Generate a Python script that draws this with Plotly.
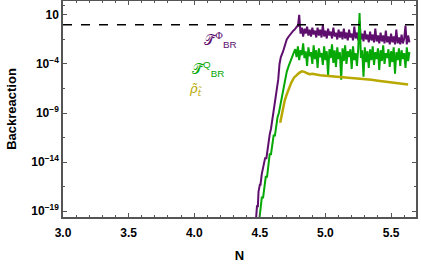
import plotly.graph_objects as go

# ---------------- data (log10 values) ----------------
phi_N = [4.470, 4.478, 4.485, 4.490, 4.500, 4.505, 4.515, 4.530, 4.540, 4.550,
         4.560, 4.575, 4.585, 4.595, 4.605, 4.615, 4.630, 4.640, 4.650, 4.660,
         4.675, 4.690, 4.705, 4.720, 4.740, 4.755, 4.765, 4.775, 4.785,
         4.79, 4.80, 4.81, 4.82, 4.83, 4.84, 4.85, 4.86, 4.87, 4.88, 4.89,
         4.90, 4.91, 4.92, 4.93, 4.94, 4.95, 4.96, 4.97, 4.98, 4.99,
         5.00, 5.01, 5.02, 5.03, 5.04, 5.05, 5.06, 5.07, 5.08, 5.09,
         5.10, 5.11, 5.12, 5.13, 5.14, 5.15, 5.16, 5.17, 5.18, 5.19,
         5.20, 5.21, 5.22, 5.23, 5.24, 5.25, 5.26, 5.27, 5.28, 5.29,
         5.30, 5.31, 5.32, 5.33, 5.34, 5.35, 5.36, 5.37, 5.38, 5.39,
         5.40, 5.41, 5.42, 5.43, 5.44, 5.45, 5.46, 5.47, 5.48, 5.49,
         5.50, 5.51, 5.52, 5.53, 5.54, 5.55, 5.56, 5.57, 5.58, 5.59,
         5.60, 5.61, 5.62, 5.63, 5.64]
phi_log = [-20.0, -18.5, -18.5, -17.0, -16.3, -16.3, -15.2, -14.2, -13.6, -13.6,
           -12.5, -11.2, -10.6, -9.6, -9.0, -8.1, -6.6, -5.6, -4.0, -3.3,
           -2.8, -2.0, -1.5, -1.2, -0.8, -0.6, -0.5, -0.3, -0.15,
           -0.2, 1.0, -0.9, -0.3, -1.2, -0.4, -0.9, -0.2, -1.1, -0.5, -1.2,
           -0.3, -1.0, -0.6, -1.3, -0.3, -1.1, -0.5, -1.3, 0.0, -1.2,
           -0.6, -1.4, -0.4, -1.1, -0.7, -1.4, -0.3, -1.2, -0.8, -1.5,
           -0.5, -1.3, -0.7, -1.5, -0.4, -1.4, -0.8, -1.6, -0.5, -1.3,
           -0.9, -1.6, -0.2, -1.4, -0.8, -1.6, 0.4, -1.5, -0.9, -1.7,
           -0.6, -1.5, -1.0, -1.8, -0.7, -1.6, -1.0, -1.8, -0.4, -1.7,
           -1.1, -1.9, -0.8, -1.7, -1.1, -1.9, -0.6, -1.8, -1.2, -2.0,
           -0.9, -1.8, -1.2, -2.0, -0.5, -1.9, -1.3, -2.0, -1.0, -1.9,
           -1.4, -0.1, -2.0, -1.1, -1.8]

q_N = [4.495, 4.505, 4.515, 4.525, 4.535, 4.545, 4.555, 4.565, 4.575, 4.585,
       4.595, 4.605, 4.615, 4.625, 4.635, 4.645, 4.655, 4.665, 4.675, 4.690,
       4.705, 4.720, 4.735, 4.750, 4.760,
       4.77, 4.78, 4.79, 4.80, 4.81, 4.82, 4.83, 4.84, 4.85, 4.86, 4.87, 4.88, 4.89,
       4.90, 4.91, 4.92, 4.93, 4.94, 4.95, 4.96, 4.97, 4.98, 4.99,
       5.00, 5.01, 5.02, 5.03, 5.04, 5.05, 5.06, 5.07, 5.08, 5.09,
       5.10, 5.11, 5.12, 5.13, 5.14, 5.15, 5.16, 5.17, 5.18, 5.19,
       5.20, 5.21, 5.22, 5.23, 5.24, 5.25, 5.26, 5.27, 5.28, 5.29,
       5.30, 5.31, 5.32, 5.33, 5.34, 5.35, 5.36, 5.37, 5.38, 5.39,
       5.40, 5.41, 5.42, 5.43, 5.44, 5.45, 5.46, 5.47, 5.48, 5.49,
       5.50, 5.51, 5.52, 5.53, 5.54, 5.55, 5.56, 5.57, 5.58, 5.59,
       5.60, 5.61, 5.62, 5.63, 5.64]
q_log = [-20.0, -18.8, -17.6, -17.6, -16.4, -15.5, -15.5, -14.3, -13.2, -13.2,
         -12.2, -11.3, -11.3, -10.3, -9.4, -9.0, -8.3, -7.5, -6.8, -5.8,
         -4.8, -4.2, -3.6, -3.0, -2.8,
         -2.5, -3.3, -2.2, -3.6, -2.6, -3.1, -1.9, -3.4, -2.7, -4.2, -2.3, -3.2, -2.8,
         -4.0, -2.1, -3.5, -2.6, -4.4, -2.4, -3.3, -2.9, -4.1, -2.2,
         -3.6, -2.7, -5.2, -2.5, -3.4, -2.0, -3.9, -2.6, -4.3, -2.3,
         -3.5, -2.8, -5.6, -2.4, -3.7, -2.1, -4.0, -2.7, -3.3, -2.5,
         -4.5, -2.2, -3.6, -2.9, -4.2, -2.4, 1.2, -3.4, -2.6, -5.3,
         -2.3, -3.8, -2.7, -4.4, -2.5, -3.6, -2.2, -4.1, -2.8, -3.5,
         -2.4, -4.6, -2.6, -3.7, -2.1, -4.0, -2.9, -3.4, -2.5, -4.3,
         -2.7, -3.8, -2.3, -5.0, -2.8, -3.6, -2.4, -4.2, -2.6, -3.5,
         -2.9, -4.4, -2.3, -3.7, -2.8]

rho_N = [4.655, 4.665, 4.675, 4.690, 4.705, 4.720, 4.740, 4.760, 4.780, 4.800,
         4.820, 4.840, 4.860, 4.880, 4.900, 4.930, 4.960, 5.000, 5.050, 5.100,
         5.150, 5.200, 5.250, 5.300, 5.350, 5.400, 5.450, 5.500, 5.550, 5.600, 5.630]
rho_log = [-10.0, -9.3, -8.6, -7.7, -7.1, -6.5, -5.9, -5.4, -5.1, -4.9,
           -4.75, -4.8, -4.95, -5.05, -5.0, -5.1, -5.15, -5.2, -5.25, -5.3,
           -5.35, -5.45, -5.5, -5.55, -5.6, -5.7, -5.8, -5.85, -5.95, -6.05, -6.1]

threshold_N = [3.0, 5.69]
threshold_val = [1.0, 1.0]

y_tickvals = [1e1, 1e-4, 1e-9, 1e-14, 1e-19]
y_ticktext = ["<b>10</b>", "<b>10<sup>−4</sup></b>", "<b>10<sup>−9</sup></b>",
              "<b>10<sup>−14</sup></b>", "<b>10<sup>−19</sup></b>"]
x_tickvals = [3.0, 3.5, 4.0, 4.5, 5.0, 5.5]
x_ticktext = ["<b>3.0</b>", "<b>3.5</b>", "<b>4.0</b>", "<b>4.5</b>", "<b>5.0</b>", "<b>5.5</b>"]

PURPLE = "#5E0F6E"
GREEN = "#05A805"
YELLOW = "#B8A800"

fig = go.Figure()
fig.add_trace(go.Scatter(x=phi_N, y=[10 ** v for v in phi_log], mode="lines",
                         line=dict(color=PURPLE, width=2), showlegend=False))
fig.add_trace(go.Scatter(x=q_N, y=[10 ** v for v in q_log], mode="lines",
                         line=dict(color=GREEN, width=2), showlegend=False))
fig.add_trace(go.Scatter(x=rho_N, y=[10 ** v for v in rho_log], mode="lines",
                         line=dict(color=YELLOW, width=2.5), showlegend=False))
fig.add_trace(go.Scatter(x=threshold_N, y=threshold_val, mode="lines",
                         line=dict(color="black", width=1.6, dash="dash"), showlegend=False))

axis_col = "#555555"
FONT = "Liberation Sans, Arial, sans-serif"
tickfont = dict(family=FONT, size=12, color="black")

fig.update_xaxes(range=[3.0, 5.69], tickmode="array", tickvals=x_tickvals, ticktext=x_ticktext,
                 ticks="inside", ticklen=4, tickwidth=1, tickcolor=axis_col,
                 showline=True, linecolor=axis_col, linewidth=1.5, mirror="allticks",
                 showgrid=False, zeroline=False, tickfont=tickfont, automargin=False,
                 ticklabelstandoff=4,
                 minor=dict(tickmode="array",
                            tickvals=[3.1, 3.2, 3.3, 3.4, 3.6, 3.7, 3.8, 3.9, 4.1, 4.2, 4.3, 4.4,
                                      4.6, 4.7, 4.8, 4.9, 5.1, 5.2, 5.3, 5.4, 5.6],
                            ticks="inside", ticklen=2.5, tickcolor=axis_col, showgrid=False),
                 title=dict(text="<b>N</b>", font=dict(family=FONT, size=13, color="black"), standoff=12))
fig.update_yaxes(type="log", range=[-19.6, 2.42], tickmode="array", tickvals=y_tickvals,
                 ticktext=y_ticktext, ticks="inside", ticklen=4, tickwidth=1, tickcolor=axis_col,
                 showline=True, linecolor=axis_col, linewidth=1.5, mirror="allticks",
                 showgrid=False, zeroline=False, tickfont=tickfont, automargin=False,
                 minor=dict(tickmode="array",
                            tickvals=[10 ** -1.5, 10 ** -6.5, 10 ** -11.5, 10 ** -16.5, 10 ** 2],
                            ticks="inside", ticklen=2.5, tickcolor=axis_col, showgrid=False),
                 title=dict(text="<b>Backreaction</b>", font=dict(family=FONT, size=13, color="black"),
                            standoff=12))

labfont = "DejaVu Serif, serif"
fig.add_annotation(x=4.06, y=-1.55, xref="x", yref="y", xanchor="left", yanchor="middle",
                   text="𝒯̃<sup>Φ</sup><sub><span style='font-family:Liberation Sans'>BR</span></sub>",
                   showarrow=False, font=dict(family=labfont, size=14, color=PURPLE))
fig.add_annotation(x=3.97, y=-4.5, xref="x", yref="y", xanchor="left", yanchor="middle",
                   text="𝒯̃<sup><span style='font-family:Liberation Sans'>Q</span></sup><sub><span style='font-family:Liberation Sans'>BR</span></sub>",
                   showarrow=False, font=dict(family=labfont, size=14, color=GREEN))
fig.add_annotation(x=3.945, y=-6.6, xref="x", yref="y", xanchor="left", yanchor="middle",
                   text="<i>ρ̃</i><sub><i>t̃</i></sub>",
                   showarrow=False, font=dict(family=labfont, size=13, color=YELLOW))

fig.update_layout(width=421, height=266, margin=dict(l=63, r=5, t=1, b=49),
                  paper_bgcolor="white", plot_bgcolor="white")

fig.write_html("out.html", config={"displayModeBar": False},
               post_script="document.body.style.margin='0px';")
